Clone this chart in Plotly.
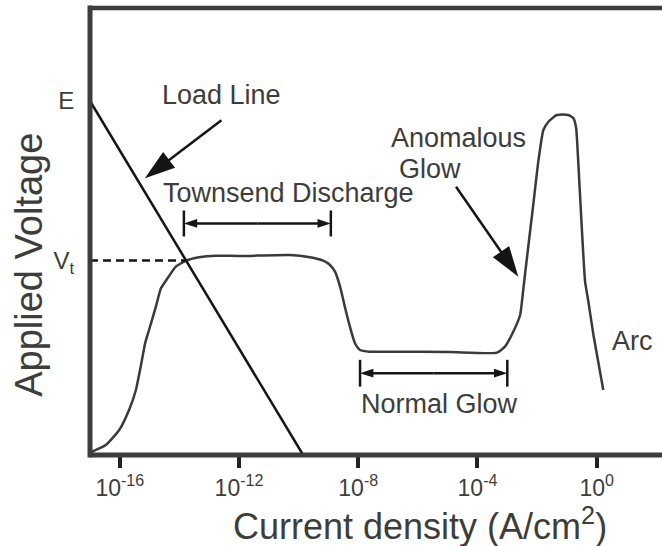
import plotly.graph_objects as go

# ---- data ----
log_j = [-16.97, -16.92, -16.47, -16.02, -15.69, -15.46, -15.30, -15.15, -15.02, -14.79,
         -14.62, -14.40, -14.12, -13.78, -13.34, -12.78, -11.97, -10.29, -9.62, -9.18,
         -8.95, -8.78, -8.61, -8.45, -8.28, -8.11, -7.94, -7.61, -6.94, -4.92,
         -3.35, -3.08, -2.80, -2.57, -2.46, -2.29, -2.13, -1.96, -1.79, -1.62,
         -1.34, -0.95, -0.78, -0.69, -0.62, -0.50, -0.39, -0.28, -0.11, 0.22]
voltage = [0.4, 0.74, 2.24, 5.59, 10.07, 14.54, 19.75, 24.99, 27.96, 33.18,
           37.29, 39.53, 42.13, 43.47, 44.23, 44.59, 44.52, 44.74, 44.23, 43.47,
           42.51, 41.01, 37.65, 33.18, 28.70, 24.99, 23.49, 23.11, 23.11, 23.04,
           22.89, 24.23, 27.58, 31.32, 37.29, 46.98, 55.93, 65.62, 72.71, 74.56,
           76.06, 76.06, 75.32, 73.09, 65.62, 50.72, 38.77, 34.30, 26.85, 14.54]

load_line_logj = [-17.0, -9.85]
load_line_v = [79.2, 0.0]

E_value = 79.2
Vt_value = 43.5
Vt_logj_end = -13.78

tick_exps = [-16, -12, -8, -4, 0]
tick_labels = ["10<sup>-16</sup>", "10<sup>-12</sup>", "10<sup>-8</sup>", "10<sup>-4</sup>", "10<sup>0</sup>"]

townsend_range = [-13.85, -8.92]
townsend_y = 51.8
normal_range = [-7.94, -3.00]
normal_y = 18.3

load_arrow = [(-12.59, 74.9), (-15.16, 61.9)]
anom_arrow = [(-4.72, 60.0), (-2.63, 39.9)]

FONT = "Liberation Sans, Arial, Helvetica, sans-serif"
TXT = "#3d3d3a"
CURVE = "#3a3a36"
DARK = "#151515"

p = lambda e: 10 ** e

fig = go.Figure()

# main curve
fig.add_trace(go.Scatter(x=[p(v) for v in log_j], y=voltage, mode="lines",
                         line=dict(color=CURVE, width=2.5, shape="spline", smoothing=0.5),
                         hoverinfo="skip"))
# load line
fig.add_trace(go.Scatter(x=[p(v) for v in load_line_logj], y=load_line_v, mode="lines",
                         line=dict(color=DARK, width=2.5), hoverinfo="skip"))
# Vt dashed line
fig.add_trace(go.Scatter(x=[p(-17.0), p(Vt_logj_end)], y=[Vt_value, Vt_value], mode="lines",
                         line=dict(color=DARK, width=2.5, dash="8px,5px"), hoverinfo="skip"))


def arrow(p0, p1, size, width=2.5):
    fig.add_trace(go.Scatter(x=[p(p0[0]), p(p1[0])], y=[p0[1], p1[1]], mode="lines+markers",
                             line=dict(color=DARK, width=width),
                             marker=dict(symbol="arrow", size=size, angleref="previous",
                                         color=DARK, line=dict(width=0)),
                             hoverinfo="skip"))


def range_arrow(rng, yv, half):
    mid = (rng[0] + rng[1]) / 2
    arrow((mid, yv), (rng[0], yv), 14)
    arrow((mid, yv), (rng[1], yv), 14)
    for xe in rng:
        fig.add_trace(go.Scatter(x=[p(xe), p(xe)], y=[yv - half, yv + half], mode="lines",
                                 line=dict(color=DARK, width=2.5), hoverinfo="skip"))


range_arrow(townsend_range, townsend_y, 2.9)
range_arrow(normal_range, normal_y, 3.0)
arrow(load_arrow[0], load_arrow[1], 32)
arrow(anom_arrow[0], anom_arrow[1], 32)

annots = [
    ("Load Line", -12.59, 80.5),
    ("Townsend Discharge", -10.33, 58.6),
    ("Anomalous", -4.64, 70.9),
    ("Glow", -5.58, 64.0),
    ("Normal Glow", -5.29, 11.4),
    ("Arc", 1.20, 25.5),
]
for t, xa, ya in annots:
    fig.add_annotation(text=t, x=xa, y=ya, xref="x", yref="y", showarrow=False,
                       font=dict(family=FONT, size=27, color=TXT),
                       xanchor="center", yanchor="middle")

# axis titles as annotations
fig.add_annotation(text="Current density (A/cm<sup>2</sup>)", xref="paper", yref="paper",
                   x=0.577, y=-0.155, showarrow=False, xanchor="center", yanchor="middle",
                   font=dict(family=FONT, size=36, color=TXT))
fig.add_annotation(text="Applied Voltage", xref="paper", yref="paper",
                   x=-0.107, y=0.425, showarrow=False, xanchor="center", yanchor="middle",
                   textangle=-90, font=dict(family=FONT, size=38, color=TXT))

# frame
FR = "#3d3d39"
fig.add_shape(type="line", xref="paper", yref="paper", x0=0, x1=0, y0=-0.0055, y1=1.0055,
              line=dict(color=FR, width=5))
fig.add_shape(type="line", xref="paper", yref="paper", x0=0, x1=1.01, y0=0, y1=0,
              line=dict(color=FR, width=5))
fig.add_shape(type="line", xref="paper", yref="paper", x0=0, x1=1.01, y0=1, y1=1,
              line=dict(color=FR, width=4.5))

fig.update_layout(
    width=662, height=546,
    margin=dict(l=90, r=0, t=8, b=91),
    paper_bgcolor="white", plot_bgcolor="white",
    showlegend=False,
    xaxis=dict(type="log", range=[-17.0, 2.19], showgrid=False, zeroline=False, showline=False,
               tickvals=[p(e) for e in tick_exps], ticktext=tick_labels,
               ticks="outside", ticklen=12, tickwidth=4, tickcolor="#222222",
               tickfont=dict(family=FONT, size=23, color=TXT)),
    yaxis=dict(range=[0, 100], showgrid=False, zeroline=False, showline=False,
               tickvals=[E_value, Vt_value], ticktext=["E", "V<sub>t</sub>"],
               ticks="outside", ticklen=10, tickcolor="rgba(0,0,0,0)",
               tickfont=dict(family=FONT, size=24, color=TXT)),
)

fig.write_html("out.html")
